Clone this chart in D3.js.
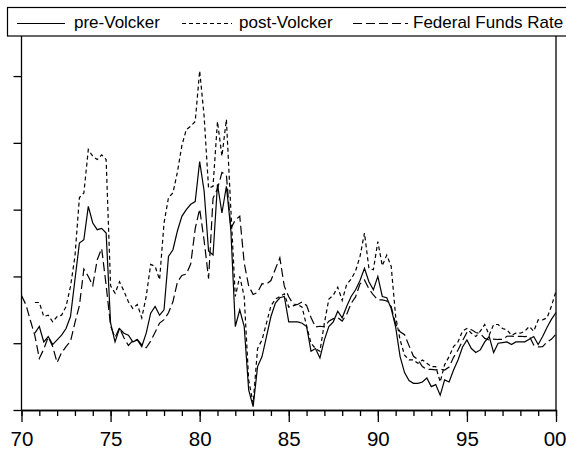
<!doctype html>
<html>
<head>
<meta charset="utf-8">
<title>Taylor rule rates vs Federal Funds Rate</title>
<script src="https://d3js.org/d3.v7.min.js"></script>
<style>
  body { margin: 0; background: #fff; }
  svg text { font-family: "Liberation Sans", Arial, sans-serif; fill: #000; }
  .line { fill: none; stroke: #000; stroke-width: 1.2px; }
</style>
</head>
<body>
<div id="chart"></div>
<script>
// quarterly data, 1970Q1 .. 2000Q1
var startYear = 1970;
var preVolcker = [null, null, null,
  5.75, 6.25, 5.1, 5.5, 4.9, 5.25, 5.6, 6.1, 7.0, 9.75, 12.5, 12.75, 15.25, 14.0, 13.5, 13.6, 13.25,
  6.5, 5.1, 6.1, 5.75, 5.6, 5.1, 5.25, 4.75, 5.75, 7.25, 7.75, 7.1, 7.5, 11.5, 12.0, 13.4, 14.5,
  15.0, 15.4, 15.6, 18.6, 16.4, 11.9, 11.6, 16.9, 14.75, 16.75, 13.5, 6.25, 7.5, 6.25, 1.5, 0.25,
  3.25, 4.0, 5.5, 7.0, 8.0, 8.4, 8.5, 6.6, 6.6, 6.6, 6.5, 6.25, 4.4, 4.6, 3.9, 5.25, 6.25, 6.6,
  7.4, 6.9, 7.75, 8.5, 9.0, 9.7, 10.6, 9.6, 9.0, 10.0, 8.5, 8.4, 7.6, 6.2, 4.0, 2.8, 2.2, 2.0,
  2.0, 2.1, 2.4, 1.75, 1.9, 1.1, 2.25, 2.1, 3.0, 3.75, 4.7, 5.25, 4.6, 4.3, 4.5, 5.1, 5.5, 4.3,
  5.0, 5.05, 5.1, 4.9, 5.1, 5.1, 5.1, 5.3, 5.5, 4.9, 5.5, 6.2, 6.8, 7.3];

var postVolcker = [null, null, null,
  8.05, 8.05, 7.0, 7.1, 6.6, 7.0, 7.1, 7.75, 9.25, 11.5, 15.9, 16.25, 19.5, 19.0, 18.75, 19.1, 18.75,
  9.3, 8.75, 9.6, 8.9, 8.1, 7.6, 7.9, 6.9, 8.5, 10.9, 10.75, 9.75, 14.0, 15.9, 16.25, 17.8, 19.8,
  21.0, 21.25, 21.6, 25.4, 22.0, 16.6, 16.75, 21.6, 19.0, 21.75, 15.0, 8.5, 10.0, 8.5, 2.25, 0.5,
  4.6, 5.25, 6.5, 7.8, 8.3, 8.5, 8.7, 7.7, 7.8, 7.9, 7.7, 6.3, 5.0, 4.6, 4.4, 6.5, 8.3, 8.6,
  9.2, 8.2, 9.4, 9.8, 10.4, 11.5, 13.25, 10.6, 10.5, 12.6, 10.8, 11.6, 10.75, 7.0, 5.25, 4.1, 3.75, 3.75,
  3.5, 3.75, 3.5, 3.25, 3.25, 2.1, 3.4, 4.0, 4.75, 5.1, 5.9, 6.1, 5.75, 5.5, 5.9, 6.4, 5.6, 6.4,
  6.4, 6.1, 6.0, 5.6, 5.75, 5.75, 5.9, 6.25, 5.9, 6.75, 6.75, 6.9, 7.8, 8.9];

var fedFunds = [8.57, 7.88, 6.70, 5.57,
  3.86, 4.56, 5.47, 4.75,
  3.55, 4.30, 4.74, 5.14,
  6.54, 7.82, 10.56, 10.00,
  9.32, 11.25, 12.09, 9.35,
  6.30, 5.42, 6.16, 5.41,
  4.83, 5.20, 5.28, 4.87,
  4.66, 5.16, 5.82, 6.51,
  6.76, 7.28, 8.10, 9.58,
  10.07, 10.18, 10.95, 13.58,
  15.05, 12.69, 9.84, 15.85,
  16.57, 17.78, 17.58, 13.59,
  14.23, 14.51, 11.01, 9.29,
  8.65, 8.80, 9.46, 9.43,
  9.69, 10.56, 11.39, 9.27,
  8.48, 7.92, 7.90, 8.10,
  7.83, 6.92, 6.21, 6.27,
  6.22, 6.65, 6.84, 6.92,
  6.66, 7.16, 7.98, 8.47,
  9.44, 9.73, 9.08, 8.61,
  8.25, 8.24, 8.16, 7.74,
  6.43, 5.86, 5.64, 4.82,
  4.02, 3.77, 3.26, 3.04,
  3.04, 3.00, 3.06, 2.99,
  3.21, 3.94, 4.49, 5.17,
  5.81, 6.02, 5.80, 5.72,
  5.36, 5.24, 5.31, 5.28,
  5.28, 5.52, 5.53, 5.51,
  5.52, 5.50, 5.53, 4.86,
  4.73, 4.75, 5.09, 5.31,
  5.68];

var tickYears = [1970, 1975, 1980, 1985, 1990, 1995, 2000];
var tickLabels = ["70", "75", "80", "85", "90", "95", "00"];
var yTicks = [0, 5, 10, 15, 20, 25];

var seriesNames = ["pre-Volcker", "post-Volcker", "Federal Funds Rate"];
var dashes = [null, "4,3", "9,4"];

var width = 566, height = 452;
// note: "top" is reserved on window, so use plot* names
var plotLeft = 21.5, plotRight = 556, plotTop = 36, plotBottom = 410;

var svg = d3.select("#chart").append("svg")
    .attr("width", width)
    .attr("height", height);

var x = d3.scaleLinear().domain([1970, 2000]).range([plotLeft, plotRight]);
var y = d3.scaleLinear().domain([0, 28]).range([plotBottom, plotTop]);

function quarterDate(i) { return startYear + i / 4; }

var line = d3.line()
    .defined(function(d) { return d != null; })
    .x(function(d, i) { return x(quarterDate(i)); })
    .y(function(d) { return y(d); });

// series
[preVolcker, postVolcker, fedFunds].forEach(function(s, k) {
  svg.append("path")
      .datum(s)
      .attr("class", "line")
      .attr("stroke-dasharray", dashes[k])
      .attr("d", line);
});

// left axis (ticks, no labels)
svg.append("g")
    .attr("transform", "translate(" + plotLeft + ",0)")
    .call(d3.axisLeft(y).tickValues(yTicks).tickSize(8).tickFormat("").tickSizeOuter(0))
    .call(function(g) { g.select(".domain").remove(); });

svg.append("line")
    .attr("x1", plotLeft).attr("x2", plotLeft)
    .attr("y1", plotTop).attr("y2", plotBottom)
    .attr("stroke", "#000").attr("stroke-width", 1.3);

// right frame line
svg.append("line")
    .attr("x1", plotRight).attr("x2", plotRight)
    .attr("y1", plotTop).attr("y2", plotBottom)
    .attr("stroke", "#000").attr("stroke-width", 1.3);

// bottom axis: minor ticks every year, major every 5 years
svg.append("g")
    .attr("transform", "translate(0," + plotBottom + ")")
    .call(d3.axisBottom(x).tickValues(d3.range(1970, 2001)).tickSize(6).tickFormat("").tickSizeOuter(0));

var xAxis = svg.append("g")
    .attr("transform", "translate(0," + plotBottom + ")")
    .call(d3.axisBottom(x).tickValues(tickYears).tickSize(12).tickSizeOuter(0)
      .tickFormat(function(d, i) { return tickLabels[i]; }));
xAxis.selectAll("text")
    .attr("y", 21)
    .attr("dy", "0.71em")
    .style("font-size", "20.5px")
    .style("font-family", "'Liberation Sans', Arial, sans-serif");
// keep the last label inside the window
xAxis.selectAll("text").filter(function(d) { return d === 2000; })
    .attr("text-anchor", "end")
    .attr("x", 10);
svg.selectAll(".domain").attr("stroke-width", 1.3);
svg.selectAll(".tick line").attr("stroke-width", 1.3);

// legend box
var legend = svg.append("g");
legend.append("rect")
    .attr("x", 7.5).attr("y", 7.5)
    .attr("width", 600).attr("height", 28.5)
    .attr("fill", "#fff").attr("stroke", "#000").attr("stroke-width", 1.2);

var legendItems = [
  { x1: 17, x2: 65, tx: 74 },
  { x1: 182, x2: 232, tx: 239 },
  { x1: 353, x2: 408, tx: 413 }
];
legendItems.forEach(function(it, k) {
  legend.append("line")
      .attr("x1", it.x1).attr("x2", it.x2)
      .attr("y1", 23.5).attr("y2", 23.5)
      .attr("stroke", "#000").attr("stroke-width", 1.2)
      .attr("stroke-dasharray", dashes[k]);
  legend.append("text")
      .attr("x", it.tx).attr("y", 28)
      .style("font-size", "17px")
      .text(seriesNames[k]);
});
</script>
</body>
</html>
